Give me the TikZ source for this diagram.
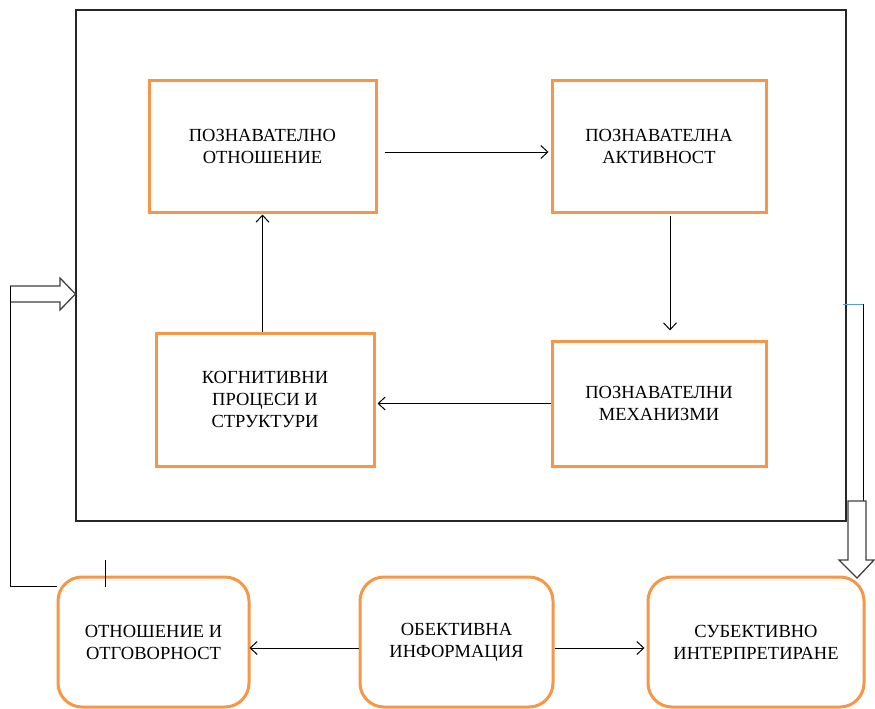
\documentclass[tikz,border=0pt]{standalone}
\usepackage{fontspec}
\setmainfont{Liberation Serif}
\usetikzlibrary{arrows.meta}
\definecolor{orng}{RGB}{247,150,70}
\definecolor{lblue}{RGB}{91,155,213}
\tikzset{
  sqbox/.style={draw=orng, line width=3pt, fill=white, align=center, inner sep=0pt,
    font=\fontsize{18.5}{22}\selectfont},
  rbox/.style={sqbox, rounded corners=24pt},
  arr/.style={draw=black, line width=1pt, -{Straight Barb[length=7pt,width=13pt,line width=1pt]}},
  blk/.style={draw=black!75, line width=1.3pt, fill=white, line join=miter},
  plain/.style={draw=black, line width=1pt},
}
\begin{document}
\begin{tikzpicture}[x=1pt,y=-1pt]
\useasboundingbox (0,0) rectangle (875,709);
% frame
\node[draw=black!85, line width=1.2pt, minimum width=770pt, minimum height=511pt, inner sep=0pt] (frame) at (461,265.5) {};
% top boxes
\node[sqbox, minimum width=227pt, minimum height=132pt] (b1) at (262.5,146) {ПОЗНАВАТЕЛНО\\ОТНОШЕНИЕ};
\node[sqbox, minimum width=214pt, minimum height=132pt] (b2) at (659,146) {ПОЗНАВАТЕЛНА\\АКТИВНОСТ};
\node[sqbox, minimum width=214pt, minimum height=125pt] (b3) at (659,403.5) {ПОЗНАВАТЕЛНИ\\МЕХАНИЗМИ};
\node[sqbox, minimum width=218pt, minimum height=133pt] (b4) at (265,399.5) {КОГНИТИВНИ\\ПРОЦЕСИ И\\СТРУКТУРИ};
% bottom boxes
\node[rbox, minimum width=191pt, minimum height=130pt] (o1) at (153.5,642) {ОТНОШЕНИЕ И\\ОТГОВОРНОСТ};
\node[rbox, minimum width=193pt, minimum height=130pt] (o2) at (456.5,642) {ОБЕКТИВНА\\ИНФОРМАЦИЯ};
\node[rbox, minimum width=216pt, minimum height=130pt] (o3) at (756,642) {СУБЕКТИВНО\\ИНТЕРПРЕТИРАНЕ};
% inner arrows
\draw[arr] ([xshift=7pt,yshift=-6pt]b1.east) -- ([xshift=-2pt,yshift=-6pt]b2.west);
\draw[arr] ([xshift=11pt,yshift=-2pt]b2.south) -- ([xshift=11pt,yshift=9pt]b3.north);
\draw[arr] (b3.west) -- ([xshift=2pt]b3.west -| b4.east);
\draw[arr] (b1.south |- b4.north) -- ([yshift=-1pt]b1.south);
% bottom arrows
\draw[arr] ([yshift=-6pt]o2.west) -- ([yshift=-6pt,xshift=-1pt]o1.east);
\draw[arr] ([yshift=-6pt]o2.east) -- ([yshift=-6pt,xshift=-2pt]o3.west);
% left feedback
\coordinate (fl1) at (10,586);
\coordinate (fl2) at (10,286);
\draw[blk] (10,286) -- (60,286) -- (60,278) -- (frame.west |- 0,294) -- (60,310) -- (60,302) -- (10,302);
\draw[plain] (fl1 -| o1.west) -- (fl1) -- (fl2);
\draw[plain] (105,560) -- (105,587);
% right feedback
\coordinate (fr1) at (843,304);
\coordinate (fr2) at (863,304);
\coordinate (fr3) at (863,501);
\draw[draw=lblue, line width=1pt] (fr1) -- (fr2);
\draw[plain] (fr2) -- (fr3);
\draw[blk] (848,501) -- (866,501) -- (866,560) -- (874,560) -- (857,578) -- (839,560) -- (848,560) -- cycle;
\end{tikzpicture}
\end{document}
